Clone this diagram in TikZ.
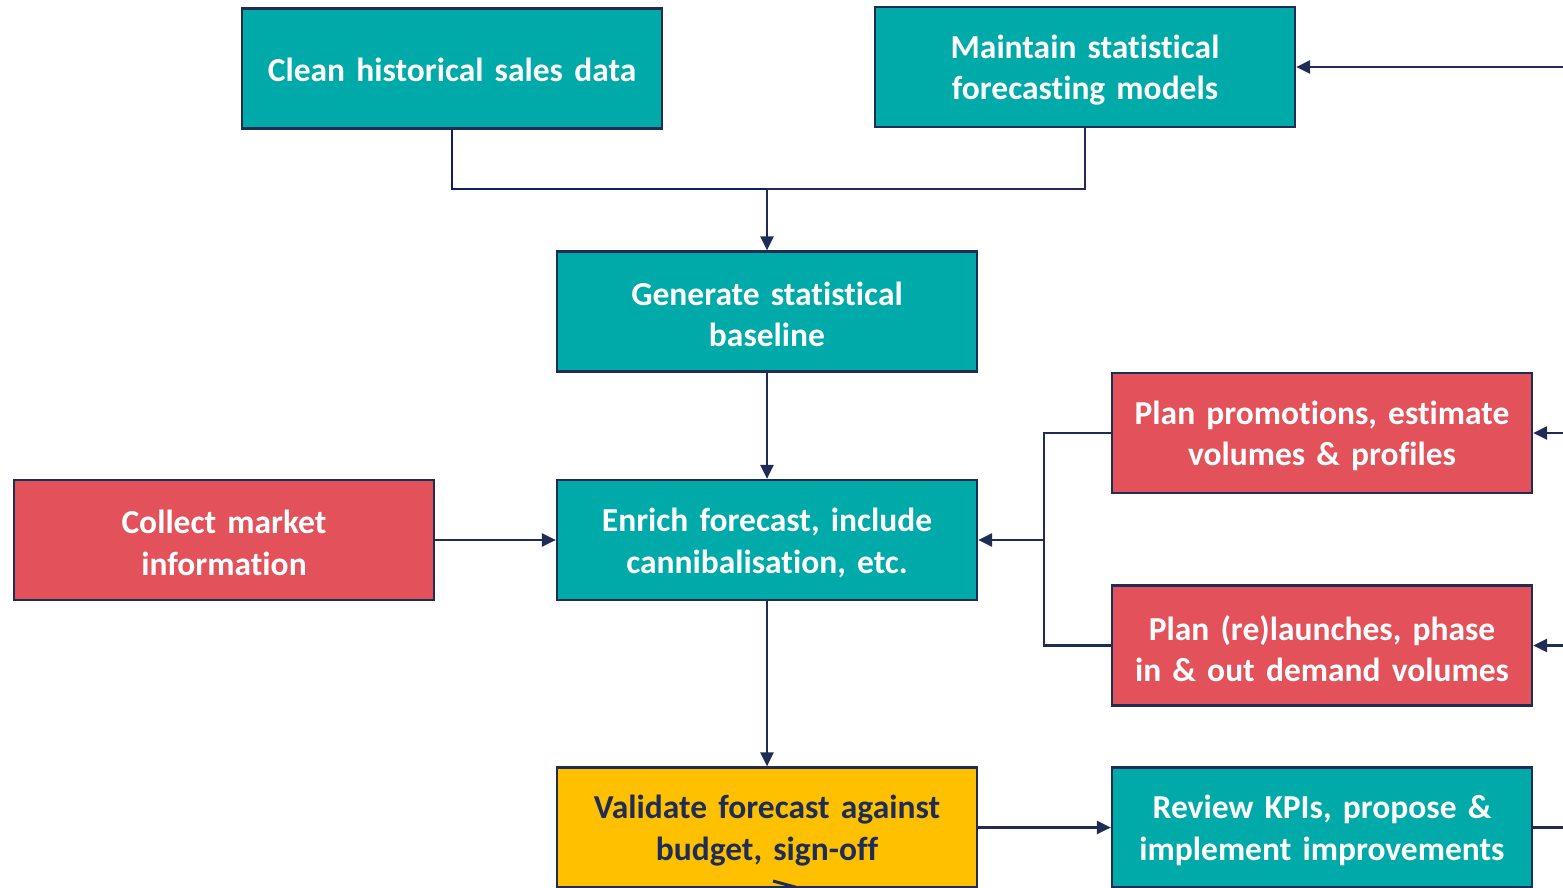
\documentclass[tikz,border=0pt]{standalone}
\usepackage{fontspec}
\setmainfont{Carlito}[Ligatures={NoCommon}]
\usetikzlibrary{arrows.meta}
\definecolor{teal1}{HTML}{00AAA8}
\definecolor{red1}{HTML}{E3515A}
\definecolor{yel1}{HTML}{FFC000}
\definecolor{navy}{HTML}{1F2D56}
\definecolor{navyb}{HTML}{0B2266}
\tikzset{
  box/.style={draw=navy, line width=2.2pt, minimum width=420pt, minimum height=120pt, inner sep=0pt},
  lbl/.style={text width=410pt, align=center, font=\fontsize{33.5}{41.5}\selectfont\bfseries,
    inner sep=0pt, yshift=-3pt},
  tealbox/.style={box, fill=teal1},
  redbox/.style={box, fill=red1},
  yelbox/.style={box, fill=yel1},
  wt/.style={lbl, text=white},
  nt/.style={lbl, text=navy},
  conn/.style={draw=navy, line width=2.5pt},
  arr/.style={conn, -{Triangle[length=14pt,width=13pt]}}
}
\begin{document}
\begin{tikzpicture}[x=1pt,y=-1pt]
\useasboundingbox (0,0) rectangle (1563,888);
\node[tealbox, label={[wt, yshift=2pt]center:Clean historical sales data}] (clean) at (452,68.5) {};
\node[tealbox, label={[wt]center:{Maintain statistical\\forecasting models}}] (maint) at (1085,67) {};
\node[tealbox, label={[wt]center:{Generate statistical\\baseline}}] (gen) at (767,311.5) {};
\node[tealbox, label={[wt]center:{Enrich forecast, include\\cannibalisation, etc.}}] (enrich) at (767,540) {};
\node[redbox, label={[wt]center:{Collect market\\information}}] (collect) at (224,540) {};
\node[redbox, label={[wt]center:{Plan promotions, estimate\\volumes \& profiles}}] (promo) at (1322,433) {};
\node[redbox, label={[wt]center:{Plan (re)launches, phase\\in \& out demand volumes}}] (launch) at (1322,645.5) {};
\node[yelbox, label={[nt]center:{Validate forecast against\\budget, sign-off}}] (valid) at (767,827.5) {};
\node[tealbox, label={[wt]center:{Review KPIs, propose \&\\implement improvements}}] (review) at (1322,827.5) {};

\coordinate (mt) at (767,189);
\coordinate (jr) at (1044,540);
\coordinate (e1) at (1566,67);
\coordinate (e2) at (1566,433);
\coordinate (e3) at (1566,645.5);
\coordinate (e4) at (1566,827.5);
\coordinate (d1) at (773,881);
\coordinate (d2) at (806,890);

\draw[conn, draw=navyb] (clean.south) |- (mt);
\draw[conn] (maint.south) |- (mt);
\draw[arr] (mt) -- (gen.north);
\draw[arr] (gen.south) -- (enrich.north);
\draw[arr] (collect.east) -- (enrich.west);
\draw[conn] (promo.west) -| (jr);
\draw[conn] (launch.west) -| (jr);
\draw[arr] (jr) -- (enrich.east);
\draw[arr] (enrich.south) -- (valid.north);
\draw[arr] (valid.east) -- (valid.east -| review.west);
\draw[conn] (review.east) -- (e4);
\draw[arr] (e1) -- (maint.east);
\draw[arr] (e2) -- (promo.east);
\draw[arr] (e3) -- (launch.east);
\draw[conn, line width=3pt] (d1) -- (d2);
\end{tikzpicture}
\end{document}
